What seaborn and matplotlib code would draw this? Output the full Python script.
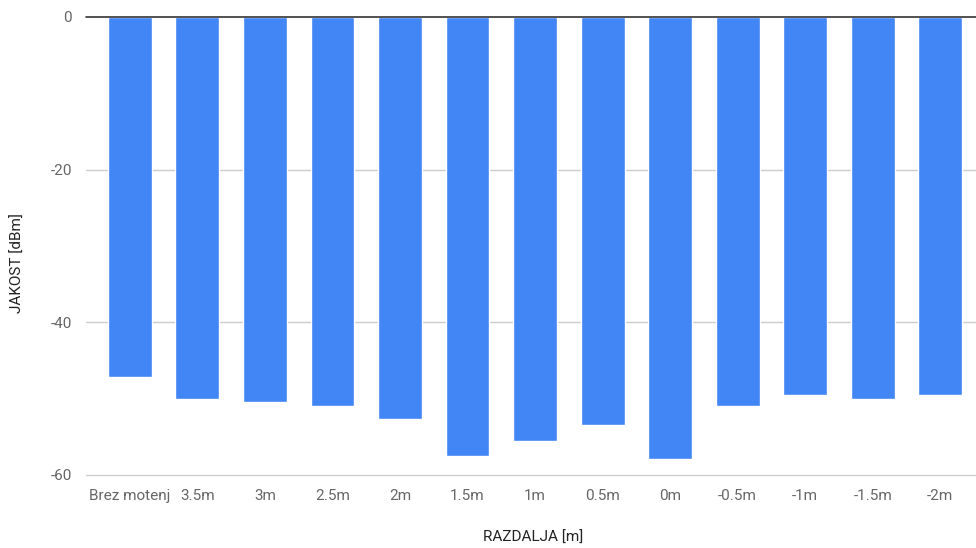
import matplotlib
matplotlib.use("Agg")
import matplotlib.pyplot as plt
import seaborn as sns
import pandas as pd

categories = ["Brez motenj", "3.5m", "3m", "2.5m", "2m", "1.5m", "1m",
              "0.5m", "0m", "-0.5m", "-1m", "-1.5m", "-2m"]
jakost = [-47.1, -50.0, -50.4, -50.9, -52.7, -57.5, -55.6,
          -53.4, -57.9, -50.9, -49.5, -50.0, -49.5]
y_ticks = [0, -20, -40, -60]

df = pd.DataFrame({"razdalja": categories, "jakost": jakost})

sns.set_theme(style="white")
plt.rcParams["font.family"] = ["Roboto", "DejaVu Sans"]

fig = plt.figure(figsize=(9.76, 5.48), dpi=100)
ax = fig.add_axes([86 / 976, 1 - 475 / 548, 1 - 86 / 976, (475 - 17) / 548])

sns.barplot(data=df, x="razdalja", y="jakost", order=categories,
            color="#4285F4", saturation=1, width=0.65, ax=ax, zorder=2)

ax.set_ylim(-60, 0)
ax.set_xlim(-0.65, 12.53)
ax.set_yticks(y_ticks)
ax.set_yticklabels([str(t) for t in y_ticks])

for t in y_ticks:
    if t == 0:
        ax.axhline(t, color="#333333", lw=1.2, zorder=3, clip_on=False)
    else:
        ax.axhline(t, color="#cccccc", lw=1.0, zorder=1, clip_on=False)

for s in ax.spines.values():
    s.set_visible(False)

ax.tick_params(axis="both", length=0, labelsize=11, labelcolor="#666666")
ax.tick_params(axis="y", pad=10)
ax.tick_params(axis="x", pad=10)

ax.set_xlabel("RAZDALJA [m]", fontsize=11, color="#222222")
ax.set_ylabel("JAKOST [dBm]", fontsize=11, color="#222222")
ax.xaxis.set_label_coords(0.502, -0.121)
ax.yaxis.set_label_coords(-0.0685, 0.463)

fig.savefig("out.png", dpi=100)
